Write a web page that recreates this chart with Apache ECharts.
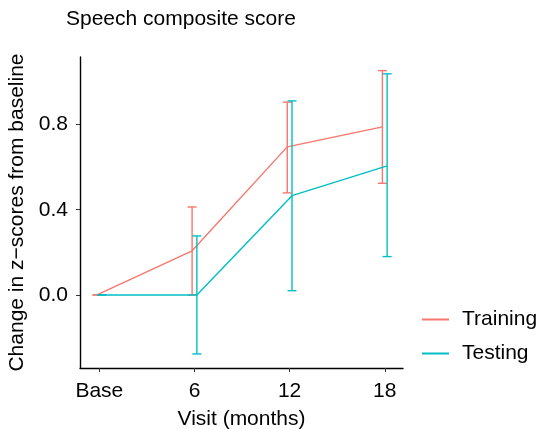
<!DOCTYPE html>
<html>
<head>
<meta charset="utf-8">
<script src="https://cdn.jsdelivr.net/npm/echarts@6/dist/echarts.min.js"></script>
<style>
html, body { margin: 0; padding: 0; background: #fff; }
#chart { width: 539px; height: 429px; }
</style>
</head>
<body>
<div id="chart"></div>
<script>
// visit positions (months), Base = 0
var visits = [0, 6, 12, 18];
var visitLabels = ['Base', '6', '12', '18'];
var yTicks = [0, 0.4, 0.8];

var trainMean = [0, 0.207, 0.695, 0.789];
var trainLow = [0, 0.0, 0.479, 0.524];
var trainHigh = [0, 0.413, 0.905, 1.053];

var testMean = [0, 0.0, 0.466, 0.606];
var testLow = [0, -0.277, 0.02, 0.18];
var testHigh = [0, 0.277, 0.911, 1.038];

// dodge between the two groups (months)
var dodge = 0.15;

var red = '#F8766D';
var teal = '#00BFC4';

function linePts(mean, off) {
    return visits.map(function (v, i) { return [v + off, mean[i]]; });
}
function barPts(low, high, off) {
    return visits.map(function (v, i) { return [v + off, low[i], high[i]]; });
}

// error bar with caps
function errRender(color) {
    return function (params, api) {
        var x = api.value(0);
        var lo = api.coord([x, api.value(1)]);
        var hi = api.coord([x, api.value(2)]);
        var w = 4.5;
        var st = { stroke: color, lineWidth: 1.4 };
        return {
            type: 'group',
            children: [
                { type: 'line', shape: { x1: lo[0], y1: lo[1], x2: hi[0], y2: hi[1] }, style: st },
                { type: 'line', shape: { x1: hi[0] - w, y1: hi[1], x2: hi[0] + w, y2: hi[1] }, style: st },
                { type: 'line', shape: { x1: lo[0] - w, y1: lo[1], x2: lo[0] + w, y2: lo[1] }, style: st }
            ]
        };
    };
}

var fontFam = 'Liberation Sans, Arial, sans-serif';
var fs = 21;

var myChart = echarts.init(document.getElementById('chart'));
myChart.setOption({
    animation: false,
    title: {
        text: 'Speech composite score',
        left: 61,
        top: 4,
        textStyle: { fontSize: fs, fontWeight: 'normal', color: '#000', fontFamily: fontFam }
    },
    legend: {
        orient: 'vertical',
        left: 417,
        top: 304,
        itemWidth: 27,
        itemHeight: 2,
        itemGap: 13,
        icon: 'rect',
        textStyle: { fontSize: fs, color: '#000', fontFamily: fontFam, padding: [0, 0, 0, 8] },
        data: ['Training', 'Testing']
    },
    // keep the plot box fixed, labels may sit outside it
    grid: { left: 80, right: 136, top: 57, bottom: 61, containLabel: false, outerBoundsMode: 'none' },
    xAxis: {
        type: 'value',
        min: -1.22,
        max: 19.15,
        name: 'Visit (months)',
        nameLocation: 'middle',
        nameGap: 41,
        nameTextStyle: { fontSize: fs, color: '#000', fontFamily: fontFam },
        axisLine: { onZero: false, lineStyle: { color: '#000', width: 1.4 } },
        axisTick: { show: true, customValues: visits, length: 4, lineStyle: { color: '#333' } },
        axisLabel: {
            customValues: visits,
            margin: 13,
            fontSize: fs,
            color: '#000',
            fontFamily: fontFam,
            formatter: function (v) { return visitLabels[visits.indexOf(v)]; }
        },
        splitLine: { show: false }
    },
    yAxis: {
        type: 'value',
        min: -0.343,
        max: 1.117,
        name: 'Change in z\u2212scores from baseline',
        nameLocation: 'middle',
        nameGap: 47,
        nameTextStyle: { fontSize: fs, color: '#000', fontFamily: fontFam },
        axisLine: { show: true, onZero: false, lineStyle: { color: '#000', width: 1.4 } },
        axisTick: { show: true, customValues: yTicks, length: 4, lineStyle: { color: '#333' } },
        axisLabel: {
            customValues: yTicks,
            margin: 12,
            fontSize: fs,
            color: '#000',
            fontFamily: fontFam,
            formatter: function (v) { return v.toFixed(1); }
        },
        splitLine: { show: false }
    },
    series: [
        {
            name: 'Training', type: 'line', data: linePts(trainMean, -dodge),
            showSymbol: false, color: red, lineStyle: { width: 1.4 }, z: 3
        },
        {
            name: 'Testing', type: 'line', data: linePts(testMean, dodge),
            showSymbol: false, color: teal, lineStyle: { width: 1.4 }, z: 4
        },
        {
            name: 'Training', type: 'custom', data: barPts(trainLow, trainHigh, -dodge),
            renderItem: errRender(red), color: red, z: 3
        },
        {
            name: 'Testing', type: 'custom', data: barPts(testLow, testHigh, dodge),
            renderItem: errRender(teal), color: teal, z: 4
        }
    ]
});
</script>
</body>
</html>
